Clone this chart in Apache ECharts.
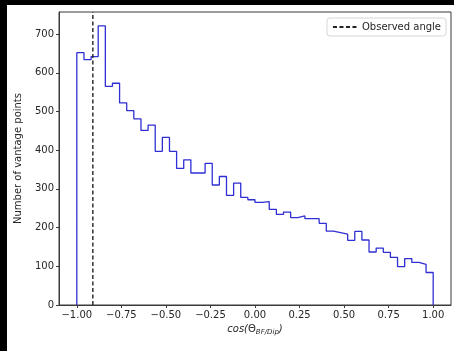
<!DOCTYPE html>
<html>
<head>
<meta charset="utf-8">
<script src="https://cdn.jsdelivr.net/npm/echarts@6/dist/echarts.min.js"></script>
<style>
  html, body { margin: 0; padding: 0; background: #fff; overflow: hidden; }
  #chart { width: 454px; height: 351px; }
</style>
</head>
<body>
<div id="chart"></div>
<script>
// Histogram of cos(angle) over 50 equal bins between -1 and 1
const binStart = -1;
const binEnd = 1;
const counts = [
  652, 634, 642, 721, 565, 573, 522, 502, 481, 451,
  465, 397, 433, 397, 353, 375, 341, 341, 366, 310,
  332, 283, 315, 278, 272, 265, 267, 247, 234, 240,
  226, 230, 223, 223, 211, 191, 187, 183, 167, 190,
  168, 137, 147, 136, 123, 99, 120, 110, 105, 84
];
const observedAngle = -0.91;
const xTicks = [-1, -0.75, -0.5, -0.25, 0, 0.25, 0.5, 0.75, 1];
const yTicks = [0, 100, 200, 300, 400, 500, 600, 700];

// Bin edges and the step outline built from them
const binWidth = (binEnd - binStart) / counts.length;
const stepPoints = [[binStart, 0]];
counts.forEach((c, i) => {
  const lo = binStart + i * binWidth;
  const hi = binStart + (i + 1) * binWidth;
  stepPoints.push([lo, c], [hi, c]);
});
stepPoints.push([binEnd, 0]);

// Axis limits with a 5% margin
const xPad = (binEnd - binStart) * 0.05;
const yMax = Math.max(...counts) * 1.05;

const fmt = v => {
  const s = Math.abs(v).toFixed(2);
  return v < 0 ? '\u2212' + s : s;
};

const font = 'DejaVu Sans';
const txt = '#262626';
const axisCol = '#3a3a3a';

const chart = echarts.init(document.getElementById('chart'));
chart.setOption({
  backgroundColor: '#fff',
  animation: false,
  textStyle: { fontFamily: font },
  graphic: [
    { type: 'rect', shape: { x: 0, y: 0, width: 454, height: 5 }, style: { fill: '#000' }, z: 100 },
    { type: 'rect', shape: { x: 0, y: 0, width: 7, height: 351 }, style: { fill: '#000' }, z: 100 }
  ],
  grid: { left: 59, right: 3, top: 12, bottom: 46, show: true, borderColor: axisCol, borderWidth: 1, backgroundColor: 'transparent' },
  legend: {
    data: ['Observed angle'],
    right: 8, top: 18,
    orient: 'vertical',
    padding: [4, 5, 4, 5],
    itemWidth: 24, itemHeight: 10,
    itemStyle: { opacity: 0 },
    backgroundColor: '#fff',
    borderColor: '#d6d6d6', borderWidth: 1, borderRadius: 3,
    textStyle: { fontSize: 10, color: txt, fontFamily: font }
  },
  xAxis: {
    type: 'value',
    min: binStart - xPad, max: binEnd + xPad,
    name: '{i|cos(}{g|\u0398}{s|BF/Dip}{i|)}',
    nameLocation: 'middle', nameGap: 14,
    nameTextStyle: {
      rich: {
        i: { fontSize: 10, fontStyle: 'italic', color: txt, fontFamily: font },
        g: { fontSize: 10, color: txt, fontFamily: font },
        s: { fontSize: 7, fontStyle: 'italic', color: txt, fontFamily: font, verticalAlign: 'bottom', padding: [5, 0, 0, 0] }
      }
    },
    axisLine: { show: true, onZero: false, lineStyle: { color: axisCol, width: 1 } },
    axisTick: { show: true, customValues: xTicks, length: 3, lineStyle: { color: axisCol } },
    axisLabel: { customValues: xTicks, formatter: fmt, fontSize: 10, color: txt, margin: 5, fontFamily: font },
    splitLine: { show: false }
  },
  yAxis: {
    type: 'value',
    min: 0, max: yMax,
    name: 'Number of vantage points',
    nameLocation: 'middle', nameGap: 36,
    nameTextStyle: { fontSize: 10, color: txt, fontFamily: font },
    axisLine: { show: true, onZero: false, lineStyle: { color: axisCol, width: 1 } },
    axisTick: { show: true, customValues: yTicks, length: 3, lineStyle: { color: axisCol } },
    axisLabel: { customValues: yTicks, fontSize: 10, color: txt, margin: 5, fontFamily: font },
    splitLine: { show: false }
  },
  series: [
    {
      name: 'Histogram',
      type: 'line',
      data: stepPoints,
      symbol: 'none',
      lineStyle: { color: '#2f2fd4', width: 1.3 },
      z: 2
    },
    {
      name: 'Observed angle',
      type: 'line',
      data: [[observedAngle, 0], [observedAngle, yMax]],
      symbol: 'none',
      color: '#000',
      lineStyle: { color: '#222', width: 1.4, type: [4, 2.5] },
      z: 3
    }
  ]
});
</script>
</body>
</html>
